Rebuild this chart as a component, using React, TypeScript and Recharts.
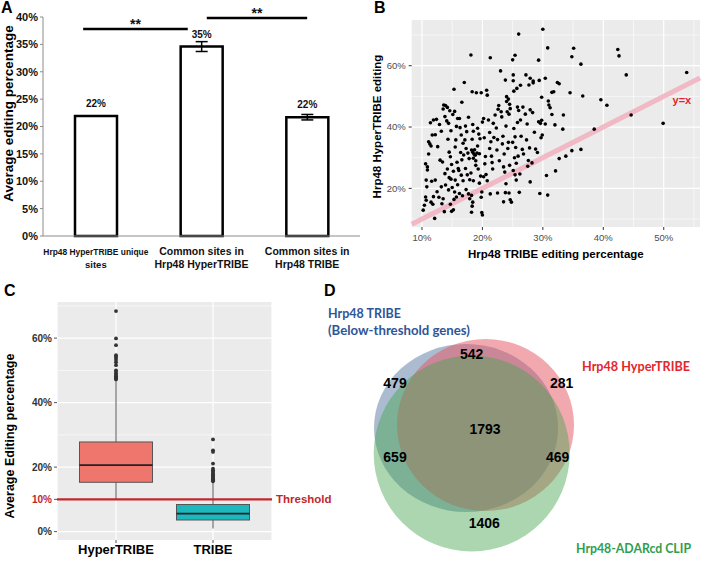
import React from 'react'
import {
  BarChart,
  Bar,
  ComposedChart,
  ScatterChart,
  Scatter,
  XAxis,
  YAxis,
  CartesianGrid,
  ErrorBar,
  LabelList,
  ReferenceLine,
  ReferenceDot,
} from 'recharts'

const FONT = '"Liberation Sans", Arial, sans-serif'
const NARROW = '"Liberation Sans Narrow", "Arial Narrow", "Liberation Sans", sans-serif'
const CALIBRI = 'Lato, "Open Sans", sans-serif'

// ---- A: average editing per site group
const siteGroups = [
  ['Hrp48 HyperTRIBE unique', 'sites'],
  ['Common sites in', 'Hrp48 HyperTRIBE'],
  ['Common sites in', 'Hrp48 TRIBE'],
]
const avgEditing = [21.9, 34.6, 21.7]
const avgEditingErr = [0, 0.9, 0.5]
const avgEditingLabels = ['22%', '35%', '22%']
const percentTicksA = [0, 5, 10, 15, 20, 25, 30, 35, 40]
// significance brackets, in bar-index units (bar i is centred on i + 0.5)
const sigBrackets = [
  { from: 0.38, to: 1.37, level: 37.8, text: '**' },
  { from: 1.55, to: 2.5, level: 39.8, text: '**' },
]

// ---- B: TRIBE vs HyperTRIBE editing per site (x = TRIBE %, y = HyperTRIBE %)
const tribeVsHyper: [number, number][] = [
  [10.2, 12.9], [10.4, 14.5], [10.6, 17.2], [10.7, 16.1], [10.8, 20.5], [10.7, 22.7], [10.6, 28], [10.9, 27],
  [10.9, 26], [11.1, 31.2], [11.1, 35.2], [11.3, 34.5], [11.5, 33.8], [11.4, 41.4], [11.7, 37.4], [11.5, 15.5],
  [11.8, 14.8], [11.9, 17.3], [11.6, 22.3], [12.1, 10.2], [11.9, 42.3],
  [12.2, 37.5], [12.4, 42.5], [12.2, 22.7], [12.5, 18.9], [12.8, 17.1], [12.6, 33.6], [13, 29.2], [13.4, 28.6],
  [13.6, 47.2], [13.9, 47], [13.5, 45.9], [13.8, 43.4], [13.2, 20.5], [13.5, 16.6], [13.8, 24.8], [13.9, 21.1],
  [13.7, 12.4], [13.3, 15], [12.9, 40.8], [13.2, 38.6],
  [14.1, 42], [14.4, 41.2], [14.2, 46.4], [14.6, 45.3], [14.8, 38.8], [14.3, 36], [14.5, 31.8], [14.7, 30.3],
  [14.9, 27.8], [14.2, 26.3], [14.5, 23.5], [14.8, 23], [15, 20.3], [14.4, 19.5], [14.7, 14.8], [14.9, 12.5],
  [15.2, 13], [15.1, 44.1], [15.4, 45.1], [15.3, 52.3], [15.7, 40.2], [15.5, 33.5], [15.9, 42.8], [15.6, 35.8],
  [15.8, 28.5], [15.2, 25.6], [15.5, 22.7], [15.9, 21.2], [15.4, 18.8], [15.7, 17.2], [15.3, 16.4], [16, 26.5],
  [16.2, 42.8], [16.6, 48.1], [16.3, 39.8], [16.5, 37.4], [16.8, 34.7], [16.4, 31.7], [16.9, 30.9], [16.6, 29.3],
  [16.1, 25.8], [16.5, 24.3], [16.8, 22.5], [16.2, 18.3], [16.7, 17.6], [17, 54.5], [17.2, 40.3], [17.4, 38.5],
  [17.7, 43.2], [17.1, 35.8], [17.3, 33], [17.6, 31.5], [17.8, 29.7], [17.2, 26.5], [17.5, 24.4], [17.9, 22.8],
  [17.3, 19.6], [17.7, 18.2], [17.9, 16.6],
  [18.1, 63.5], [18.3, 51.5], [18.4, 40.8], [18.5, 38.6], [18.3, 36], [18.2, 32.5], [18.4, 31.8], [18.6, 31.2],
  [18.8, 30.8], [18.5, 29.8], [18.9, 29], [18.7, 32.6], [19.1, 31.5], [18.9, 27.5], [18.1, 25], [18.5, 22.5],
  [18.2, 17.7], [18.4, 15.5], [18.3, 14.2], [18.2, 12.2], [19, 51.2], [19.2, 39.6], [19.4, 37.7], [19.6, 36.2],
  [19.2, 33.8], [19.5, 31.3], [19.3, 26.3], [19.8, 51.2], [19.7, 24], [19.5, 21.7], [19.9, 18.8], [19.8, 17.1],
  [19.9, 12.1], [20, 11.3],
  [20, 41.6], [20.2, 42.8], [20.3, 36.5], [20.5, 30.4], [20.4, 28], [20.2, 23.8], [20.6, 24.5], [20.8, 22.5],
  [20.7, 52], [20.8, 50.4], [21, 42.3], [21.3, 62.6], [21.2, 38.2], [21.4, 35.2], [21.2, 33], [21.5, 30.5],
  [21.6, 28.4], [21.8, 41.2], [21.3, 18.2], [21.7, 26.3], [21.9, 36.6],
  [22.1, 43.9], [22.3, 39.7], [22.5, 35.9], [22.7, 47], [22.6, 45.8], [22.4, 32.5], [22.8, 29], [22.5, 18.5],
  [23, 58.3], [23.1, 45], [23.2, 43.3], [23.4, 37], [23.3, 34.5], [23.6, 31.2], [23.5, 27], [23.7, 25.3],
  [23.9, 21.5], [23.8, 18.6], [23.5, 15.6], [23.8, 55.3], [24, 49.9], [24.3, 49.1], [24, 48.3], [24.1, 45],
  [24.4, 44.2], [23.9, 40.3], [24.2, 33], [24.3, 35], [24.5, 27.5], [24.4, 18.5], [24.6, 16.3], [24.8, 15.5],
  [24.6, 46], [24.5, 47.4], [25, 61.9], [25.4, 63.4], [25.1, 57], [25.1, 55.1], [25.2, 51.7], [25.7, 52.6],
  [25.8, 46.5], [26, 45.4], [25.8, 41.5], [25.2, 39.5], [25.4, 36.8], [25, 35], [25.5, 33.3], [25.3, 30],
  [25.6, 28.2], [25.1, 25.8], [25.4, 24.4], [25.6, 22.7], [25.9, 30.5], [26, 70.3], [26.3, 53.6], [26.3, 42.3],
  [26.7, 46.5], [26.4, 37], [26.6, 32.7], [26.2, 24.7], [26.1, 18.7],
  [26.8, 31.2], [27.2, 57], [27.1, 44.2], [27.4, 41], [27.7, 53.7], [27.3, 35.8], [27.6, 29.1], [27.9, 55.9],
  [27.9, 45.6], [27.8, 33.2], [27.5, 27.2], [27.9, 22.1],
  [28.4, 55], [28.4, 54.4], [28.3, 44.7], [28.6, 38.3], [28.8, 32.8], [28.2, 28.3], [29.3, 61.8], [29.4, 55.2],
  [29.3, 41.7], [29.6, 41.2], [29.8, 42.2], [29.1, 31.7], [29.5, 18.3], [29.8, 49.7], [29.7, 36.5], [29.9, 37.4],
  [30, 71.9], [30.4, 55.9], [30.8, 65.8], [30.9, 48.5], [31, 47.2], [31.5, 44.1], [31.8, 51.5], [31.5, 51.3],
  [30.6, 24.2], [30.8, 17.8], [31.2, 46.3], [30.4, 41],
  [32, 40.7], [32.4, 54.5], [32.7, 54.1], [32.1, 25.7], [32.7, 29.7], [33.3, 39.3], [33.4, 43.9], [33.8, 30.5],
  [34.5, 51.2], [34.8, 32.3], [34.8, 62.9], [35.1, 65.7], [36.3, 60.5], [36.3, 32.7], [36.6, 50.1],
  [38.5, 39.3], [39.6, 48.9], [40.6, 47.1], [42.4, 65.3], [42.6, 63.2], [43.8, 57], [44.6, 43.9], [49.9, 41.2],
  [53.8, 57.8],
]
const tribeTicks = [10, 20, 30, 40, 50]
const hyperTicks = [20, 40, 60]

// ---- C: editing distributions
const boxGroups = ['HyperTRIBE', 'TRIBE']
const boxLow = [10.1, 1]
const boxQ1 = [15.3, 3.6]
const boxMedian = [20.6, 5.6]
const boxQ3 = [27.8, 8.4]
const boxHigh = [46.8, 15.4]
const boxOutliers = [
  [47.2, 47.5, 47.8, 48.2, 48.6, 49, 49.5, 50, 51.6, 52.5, 53.2, 53.8, 54.2, 54.7, 57.8, 59.9, 68.4],
  [15.6, 15.9, 16.2, 16.5, 16.8, 17.1, 17.4, 17.8, 18.2, 18.6, 19, 19.5, 21.1, 24.7, 25.2, 28.6],
]
const boxColors = ['#EE766C', '#1DB8BE']
const THRESHOLD = 10
const boxTicks = [0, 10, 20, 40, 60]

// ---- D: gene overlap
const vennSets = ['Hrp48 TRIBE', 'Hrp48 HyperTRIBE', 'Hrp48-ADARcd CLIP']
const vennFills = ['#3A5F8F', '#E5525F', '#45A350']
const vennFillOpacity = [0.42, 0.5, 0.45]
const vennTextColors = ['#2F5597', '#E3262D', '#2E9E4E']
const vennRegions = ['TRIBE only', 'HyperTRIBE only', 'CLIP only', 'TRIBE+HyperTRIBE', 'TRIBE+CLIP', 'HyperTRIBE+CLIP', 'all three']
const vennCounts = [479, 281, 1406, 542, 659, 469, 1793]

// Venn drawing layout (pixel units of the panel D chart)
const VENN_W = 381
const VENN_H = 291
const vennShapes = [
  { cx: 146, cy: 158, rx: 92, ry: 84 },
  { cx: 165.5, cy: 155, rx: 88.5, ry: 86 },
  { cx: 151.7, cy: 183.5, rx: 98, ry: 98 },
]
const vennRegionSpots = [
  { x: 75, y: 113 }, { x: 241.7, y: 112.7 }, { x: 164.3, y: 253.3 }, { x: 151.7, y: 84 },
  { x: 75, y: 186.7 }, { x: 237.7, y: 186.7 }, { x: 165, y: 159.3 },
]
const vennTitleSpots = [
  { x: 8, y: 43, lines: ['Hrp48 TRIBE', '(Below-threshold genes)'], widths: [73, 142] },
  { x: 262, y: 96, lines: ['Hrp48 HyperTRIBE'], widths: [108] },
  { x: 256, y: 278, lines: ['Hrp48-ADARcd CLIP'], widths: [115] },
]

// panel A plot box
const A_W = 365
const A_H = 270
const A_MARGIN = { top: 17, right: 5, bottom: 0, left: 0 }
const A_YAXIS_W = 43
const A_XAXIS_H = 34

function VTitle({ viewBox, value, left, shift = 0, size = 12, fill = '#000' }: any) {
  const cy = (viewBox?.y ?? 0) + (viewBox?.height ?? 0) / 2 + shift
  return (
    <text
      transform={`translate(${left},${cy}) rotate(-90)`}
      textAnchor="middle"
      dominantBaseline="central"
      fontSize={size}
      fontWeight="bold"
      fill={fill}
      fontFamily={FONT}
    >
      {value}
    </text>
  )
}

function SiteTick({ x, y, payload }: any) {
  const lines = siteGroups[payload.index] ?? []
  const narrow = payload.index === 0
  return (
    <g transform={`translate(${x},${y})`}>
      {lines.map((l, i) => (
        <text
          key={i}
          x={0}
          y={11 + i * 13}
          textAnchor="middle"
          fontSize={narrow ? 9.5 : 10.5}
          fontWeight="bold"
          fontFamily={narrow ? NARROW : FONT}
          fill="#111"
          {...(narrow && i === 0 ? { textLength: 105, lengthAdjust: 'spacingAndGlyphs' } : {})}
        >
          {l}
        </text>
      ))}
    </g>
  )
}

function PanelA() {
  const data = siteGroups.map((g, i) => ({
    name: g.join(' '),
    value: avgEditing[i],
    err: avgEditingErr[i],
    label: avgEditingLabels[i],
  }))
  return (
    <BarChart width={A_W} height={A_H} data={data} margin={A_MARGIN}>
      <XAxis dataKey="name" height={A_XAXIS_H} tick={<SiteTick />} tickLine={false} axisLine={{ stroke: '#8c8c8c' }} interval={0} />
      <YAxis
        width={A_YAXIS_W}
        domain={[0, 40]}
        ticks={percentTicksA}
        tickFormatter={v => `${v}%`}
        tick={{ fontSize: 11, fontWeight: 'bold', fill: '#111', fontFamily: FONT }}
        tickSize={3}
        tickLine={{ stroke: '#8c8c8c' }}
        axisLine={{ stroke: '#8c8c8c' }}
        label={<VTitle value="Average editing percentage" left={8} shift={-13} size={13.5} />}
      />
      <Bar dataKey="value" fill="#fff" stroke="#000" strokeWidth={2.5} barSize={42} isAnimationActive={false}>
        <ErrorBar dataKey="err" width={6} stroke="#000" strokeWidth={1.5} />
        <LabelList dataKey="label" position="top" offset={9} fontSize={10} fontWeight="bold" fill="#111" fontFamily={FONT} />
      </Bar>
    </BarChart>
  )
}

// overlay with a numeric x scale over the same plot box, for the significance brackets
function PanelABrackets() {
  return (
    <ScatterChart
      width={A_W}
      height={A_H}
      margin={{ top: A_MARGIN.top, right: A_MARGIN.right, bottom: A_MARGIN.bottom + A_XAXIS_H, left: A_MARGIN.left + A_YAXIS_W }}
    >
      <XAxis type="number" dataKey="x" domain={[0, 3]} allowDataOverflow hide />
      <YAxis type="number" dataKey="y" domain={[0, 40]} allowDataOverflow hide />
      {sigBrackets.map((b, i) => (
        <ReferenceLine
          key={i}
          segment={[{ x: b.from, y: b.level }, { x: b.to, y: b.level }]}
          stroke="#000"
          strokeWidth={2.5}
          ifOverflow="visible"
          label={{ value: b.text, position: 'top', offset: 0, fontSize: 14, fontWeight: 'bold', fill: '#111' }}
        />
      ))}
    </ScatterChart>
  )
}

function Dot({ cx, cy }: any) {
  return <circle cx={cx} cy={cy} r={1.8} fill="#000" />
}

function PanelB() {
  const data = tribeVsHyper.map(([x, y]) => ({ x, y }))
  const tickStyle = { fontSize: 9.5, fill: '#4D4D4D', fontFamily: FONT }
  return (
    <ScatterChart width={351} height={270} margin={{ top: 20, right: 1, bottom: 0, left: 0 }}>
      <CartesianGrid
        fill="#EBEBEB"
        stroke="#fff"
        strokeWidth={0.6}
        horizontalValues={[10, 30, 50, 70]}
        verticalValues={[15, 25, 35, 45, 55]}
      />
      <CartesianGrid stroke="#fff" strokeWidth={1.2} horizontalValues={hyperTicks} verticalValues={tribeTicks} />
      <XAxis
        type="number"
        dataKey="x"
        domain={[8.3, 56]}
        ticks={tribeTicks}
        tickFormatter={v => `${v}%`}
        height={43}
        tick={tickStyle}
        tickSize={3}
        tickMargin={4}
        tickLine={{ stroke: '#333' }}
        axisLine={false}
        allowDataOverflow
        label={{ value: 'Hrp48 TRIBE editing percentage', position: 'insideBottom', offset: 12, fontSize: 11.5, fontWeight: 'bold', fill: '#000' }}
      />
      <YAxis
        type="number"
        dataKey="y"
        domain={[7.4, 74.9]}
        ticks={hyperTicks}
        tickFormatter={v => `${v}%`}
        width={61.7}
        tick={tickStyle}
        tickSize={3}
        tickMargin={3}
        tickLine={{ stroke: '#333' }}
        axisLine={false}
        allowDataOverflow
        label={<VTitle value="Hrp48 HyperTRIBE editing" left={27} shift={3} size={11.5} />}
      />
      <Scatter data={data} shape={<Dot />} isAnimationActive={false} />
      <ReferenceLine
        segment={[{ x: 8.3, y: 8.3 }, { x: 56, y: 56 }]}
        stroke="#F2B3C1"
        strokeWidth={5}
        strokeOpacity={0.9}
      />
      <ReferenceDot
        x={53}
        y={48.8}
        r={0}
        stroke="none"
        fill="none"
        label={{ value: 'y=x', position: 'center', fontSize: 11, fontWeight: 'bold', fill: '#E3262D' }}
      />
    </ScatterChart>
  )
}

function BoxShape(props: any) {
  const { x, y, width, height, payload } = props
  const span = payload.hi - payload.lo
  const k = span > 0 ? height / span : 0
  const yOf = (v: number) => y + (payload.hi - v) * k
  const mid = x + width / 2
  return (
    <g>
      <line x1={mid} x2={mid} y1={yOf(payload.hi)} y2={yOf(payload.lo)} stroke="#6e6e6e" strokeWidth={1.2} />
      <rect
        x={x}
        y={yOf(payload.q3)}
        width={width}
        height={yOf(payload.q1) - yOf(payload.q3)}
        fill={payload.color}
        stroke="#555"
        strokeWidth={1}
      />
      <line x1={x} x2={x + width} y1={yOf(payload.median)} y2={yOf(payload.median)} stroke="#222" strokeWidth={1.8} />
      {payload.outliers.map((v: number, i: number) => (
        <circle key={i} cx={mid} cy={yOf(v)} r={1.9} fill="#333" />
      ))}
    </g>
  )
}

function BoxYTick({ x, y, payload }: any) {
  const red = payload.value === THRESHOLD
  return (
    <text x={x} y={y} dy={3.5} textAnchor="end" fontSize={10} fontWeight="bold" fontFamily={NARROW} fill={red ? '#C1272D' : '#333'}>
      {`${payload.value}%`}
    </text>
  )
}

function PanelC() {
  const data = boxGroups.map((name, i) => ({
    name,
    lo: boxLow[i],
    hi: boxHigh[i],
    q1: boxQ1[i],
    median: boxMedian[i],
    q3: boxQ3[i],
    outliers: boxOutliers[i],
    color: boxColors[i],
  }))
  return (
    <ComposedChart width={350} height={291} data={data} margin={{ top: 32, right: 78, bottom: 0, left: 0 }}>
      <CartesianGrid fill="#EBEBEB" stroke="#fff" strokeWidth={0.6} horizontalValues={[10, 30, 50, 70]} vertical={false} />
      <CartesianGrid stroke="#fff" strokeWidth={1.2} horizontalValues={[0, 20, 40, 60]} />
      <XAxis
        dataKey="name"
        height={21}
        padding={{ left: 10.5, right: 10.5 }}
        tick={{ fontSize: 13, fontWeight: 'bold', fill: '#000', fontFamily: FONT }}
        tickSize={3}
        tickMargin={2}
        tickLine={{ stroke: '#555' }}
        axisLine={false}
      />
      <YAxis
        width={57}
        domain={[-2.6, 71.2]}
        ticks={boxTicks}
        tick={<BoxYTick />}
        tickSize={3}
        tickMargin={2}
        tickLine={{ stroke: '#555' }}
        axisLine={false}
        allowDataOverflow
        label={<VTitle value="Average Editing percentage" left={10} shift={15} size={12.5} />}
      />
      <Bar dataKey={(d: any) => [d.lo, d.hi]} barSize={73} shape={<BoxShape />} isAnimationActive={false} />
      <ReferenceLine
        y={THRESHOLD}
        stroke="#C1272D"
        strokeWidth={2.2}
        label={{ value: 'Threshold', position: 'right', offset: 4, fontSize: 11.5, fontWeight: 'bold', fill: '#C1272D', fontFamily: NARROW }}
      />
    </ComposedChart>
  )
}

function VennEllipse({ cx, cy, payload }: any) {
  return <ellipse cx={cx} cy={cy} rx={payload.rx} ry={payload.ry} fill={payload.color} fillOpacity={payload.opacity} stroke="none" />
}

function VennCount({ cx, cy, payload }: any) {
  return (
    <text x={cx} y={cy} textAnchor="middle" dominantBaseline="central" fontSize={14} fontWeight="bold" fill="#000" fontFamily={FONT}>
      {payload.count}
    </text>
  )
}

function VennTitle({ cx, cy, payload }: any) {
  return (
    <g>
      {payload.lines.map((l: string, i: number) => (
        <text
          key={i}
          x={cx}
          y={cy + i * 17}
          dominantBaseline="central"
          fontSize={13}
          fontWeight="bold"
          fill={payload.color}
          fontFamily={CALIBRI}
          textLength={payload.widths[i]}
          lengthAdjust="spacingAndGlyphs"
        >
          {l}
        </text>
      ))}
    </g>
  )
}

function PanelD() {
  const circles = vennSets.map((name, i) => ({
    name,
    ...vennShapes[i],
    x: vennShapes[i].cx,
    y: vennShapes[i].cy,
    color: vennFills[i],
    opacity: vennFillOpacity[i],
  }))
  const counts = vennRegions.map((name, i) => ({ name, count: vennCounts[i], ...vennRegionSpots[i] }))
  const titles = vennSets.map((name, i) => ({ name, ...vennTitleSpots[i], color: vennTextColors[i] }))
  return (
    <ScatterChart width={VENN_W} height={VENN_H} margin={{ top: 0, right: 0, bottom: 0, left: 0 }}>
      <XAxis type="number" dataKey="x" domain={[0, VENN_W]} hide allowDataOverflow />
      <YAxis type="number" dataKey="y" domain={[0, VENN_H]} reversed hide allowDataOverflow />
      <Scatter data={circles} shape={<VennEllipse />} isAnimationActive={false} />
      <Scatter data={counts} shape={<VennCount />} isAnimationActive={false} />
      <Scatter data={titles} shape={<VennTitle />} isAnimationActive={false} />
    </ScatterChart>
  )
}

function Letter({ x, y, t }: { x: number; y: number; t: string }) {
  return (
    <div style={{ position: 'absolute', left: x, top: y, fontSize: 16, fontWeight: 'bold', lineHeight: 1, fontFamily: FONT }}>{t}</div>
  )
}

export default function App() {
  return (
    <div style={{ position: 'absolute', left: 0, top: 0, width: 701, height: 561, background: '#fff', overflow: 'hidden', fontFamily: FONT }}>
      <div style={{ position: 'absolute', left: 0, top: 0 }}>
        <PanelA />
      </div>
      <div style={{ position: 'absolute', left: 0, top: 0 }}>
        <PanelABrackets />
      </div>
      <div style={{ position: 'absolute', left: 350, top: 0 }}>
        <PanelB />
      </div>
      <div style={{ position: 'absolute', left: 0, top: 270 }}>
        <PanelC />
      </div>
      <div style={{ position: 'absolute', left: 320, top: 270 }}>
        <PanelD />
      </div>
      <Letter x={1} y={0} t="A" />
      <Letter x={374} y={0} t="B" />
      <Letter x={4} y={283} t="C" />
      <Letter x={324} y={283} t="D" />
    </div>
  )
}
